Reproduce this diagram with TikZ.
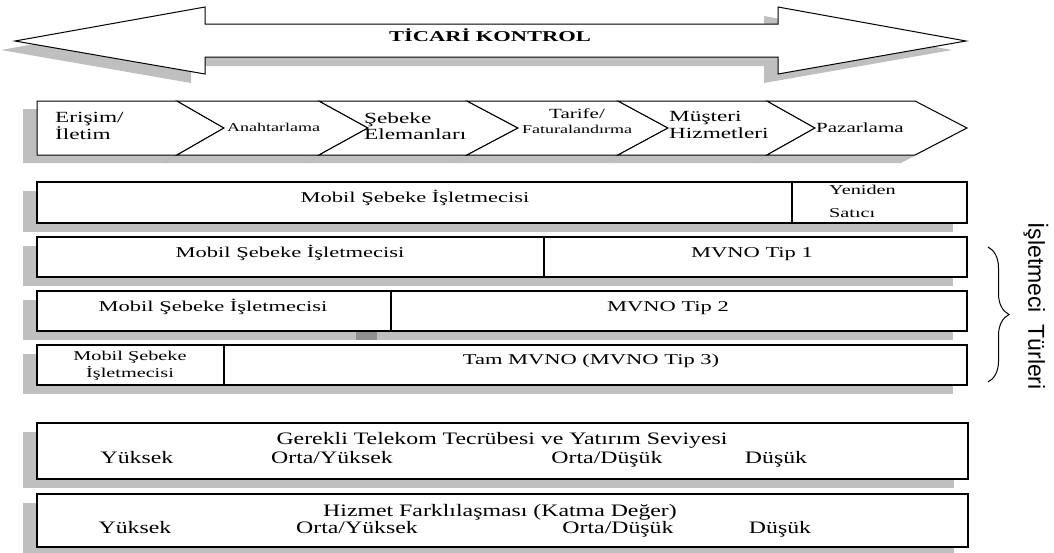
\documentclass[tikz,border=0pt]{standalone}
\usepackage{fontspec}
\setmainfont{Liberation Serif}
\newfontfamily\wf[FakeStretch=1.5]{Liberation Serif}
\newfontfamily\wfb[FakeStretch=1.36]{Liberation Serif}
\newfontfamily\vsans{Liberation Sans}
\usetikzlibrary{decorations.pathreplacing}
\begin{document}
\begin{tikzpicture}[x=1pt,y=-1pt,
  sh/.style={fill=black,fill opacity=0.25,draw=none},
  box/.style={draw=black,line width=1.1pt,fill=white},
  tx/.style={inner sep=0pt,text=black},
  tm/.style={tx,font=\wf\fontsize{15}{17}\selectfont},
  tc/.style={tx,font=\wf\fontsize{15.5}{16.5}\selectfont,align=left},
  ts/.style={tx,font=\wf\fontsize{13.5}{17}\selectfont},
  tb/.style={tx,font=\wfb\fontsize{17.5}{19}\selectfont},
]
\useasboundingbox (0,0) rectangle (1054,552);

% ---------- big double arrow ----------
\fill[sh,shift={(-14,9)}] (15,41) -- (205,7) -- (205,24) -- (778,24) -- (778,7) -- (966,41)
  -- (778,74) -- (778,57) -- (205,57) -- (205,74) -- cycle;
\draw[line width=1pt,fill=white] (15,41) -- (205,7) -- (205,24) -- (778,24) -- (778,7) -- (966,41)
  -- (778,74) -- (778,57) -- (205,57) -- (205,74) -- cycle;
\node[tx,anchor=base,font=\wf\bfseries\fontsize{15}{17}\selectfont] (title) at (490,41) {TİCARİ KONTROL};

% ---------- chevrons ----------
\begin{scope}[shift={(-14,8)}]
\fill[sh] (37,101) -- (177,101) -- (224,128) -- (177,155) -- (37,155) -- cycle;
\fill[sh] (177,101) -- (319,101) -- (368,128) -- (319,155) -- (177,155) -- (224,128) -- cycle;
\fill[sh] (319,101) -- (467,101) -- (518,128) -- (467,155) -- (319,155) -- (368,128) -- cycle;
\fill[sh] (467,101) -- (618,101) -- (668,128) -- (618,155) -- (467,155) -- (518,128) -- cycle;
\fill[sh] (618,101) -- (767,101) -- (815,128) -- (767,155) -- (618,155) -- (668,128) -- cycle;
\fill[sh] (767,101) -- (915,101) -- (967,128) -- (915,155) -- (767,155) -- (815,128) -- cycle;
\end{scope}
\draw[box,line width=1pt] (37,101) -- (177,101) -- (224,128) -- (177,155) -- (37,155) -- cycle;
\draw[box,line width=1pt] (177,101) -- (319,101) -- (368,128) -- (319,155) -- (177,155) -- (224,128) -- cycle;
\draw[box,line width=1pt] (319,101) -- (467,101) -- (518,128) -- (467,155) -- (319,155) -- (368,128) -- cycle;
\draw[box,line width=1pt] (467,101) -- (618,101) -- (668,128) -- (618,155) -- (467,155) -- (518,128) -- cycle;
\draw[box,line width=1pt] (618,101) -- (767,101) -- (815,128) -- (767,155) -- (618,155) -- (668,128) -- cycle;
\draw[box,line width=1pt] (767,101) -- (915,101) -- (967,128) -- (915,155) -- (767,155) -- (815,128) -- cycle;

\node[tc,anchor=west] (c1) at (55,126) {Erişim/\\İletim};
\node[tx,anchor=base west,font=\wf\fontsize{12}{14}\selectfont] (c2) at (227,131) {Anahtarlama};
\node[tc,anchor=west] (c3) at (364,126) {Şebeke\\Elemanları};
\node[tx,align=center,font=\wf\fontsize{12}{15}\selectfont] (c4) at (577,121) {{\fontsize{14}{15}\selectfont Tarife/}\\Faturalandırma};
\node[tc,anchor=west] (c5) at (669,125) {Müşteri\\Hizmetleri};
\node[tx,anchor=base west,font=\wf\fontsize{14}{16}\selectfont] (c6) at (816,132) {Pazarlama};

% ---------- operator rows: shadows ----------
\begin{scope}[shift={(-14,9)}]
\fill[sh] (37,182) rectangle (792,223);
\fill[sh] (792,182) rectangle (967,223);
\fill[sh] (37,237) rectangle (544,277);
\fill[sh] (544,237) rectangle (967,277);
\fill[sh] (370,291) rectangle (967,331);
\fill[sh] (37,291) rectangle (391,331);
\fill[sh] (37,345) rectangle (224,385);
\fill[sh] (224,345) rectangle (967,385);
\fill[sh] (37,423) rectangle (968,479);
\fill[sh] (37,494) rectangle (968,547);
\end{scope}

% ---------- operator rows: cells ----------
\draw[box] (37,182) rectangle (792,223);
\draw[box] (792,182) rectangle (967,223);
\draw[box] (37,237) rectangle (544,277);
\draw[box] (544,237) rectangle (967,277);
\draw[box] (370,291) rectangle (967,331);
\draw[box] (37,291) rectangle (391,331);
\draw[box] (37,345) rectangle (224,385);
\draw[box] (224,345) rectangle (967,385);

\node[tm,anchor=base] (r1a) at (415,202) {Mobil Şebeke İşletmecisi};
\node[ts,anchor=west,align=left,font=\wf\fontsize{13.5}{23}\selectfont] (r1b) at (829,201) {Yeniden\\Satıcı};
\node[tm,anchor=base] (r2a) at (290,257) {Mobil Şebeke İşletmecisi};
\node[tm,anchor=base] (r2b) at (752,257) {MVNO Tip 1};
\node[tm,anchor=base] (r3a) at (213,311) {Mobil Şebeke İşletmecisi};
\node[tm,anchor=base] (r3b) at (668,311) {MVNO Tip 2};
\node[ts,align=center] (r4a) at (130,366) {Mobil Şebeke\\İşletmecisi};
\node[tm,anchor=base] (r4b) at (591,364) {Tam MVNO (MVNO Tip 3)};

% ---------- brace and side label ----------
\coordinate (bt) at (988,247);
\coordinate (bb) at (988,382);
\draw[line width=1pt,decorate,decoration={brace,amplitude=21pt}] (bt) -- (bb);
\node[tx,rotate=-90,font=\vsans\fontsize{23}{25}\selectfont] (vt) at (1036,306) {İşletmeci\hspace{0.5em}Türleri};

% ---------- bottom boxes ----------
\draw[box] (37,423) rectangle (968,479);
\draw[box] (37,494) rectangle (968,547);

\node[tb,anchor=base] (g0) at (502,444) {Gerekli Telekom Tecrübesi ve Yatırım Seviyesi};
\node[tb,anchor=base] (g1) at (137,463) {Yüksek};
\node[tb,anchor=base] (g2) at (332,463) {Orta/Yüksek};
\node[tb,anchor=base] (g3) at (607,463) {Orta/Düşük};
\node[tb,anchor=base] (g4) at (776,463) {Düşük};

\node[tb,anchor=base] (h0) at (500,516) {Hizmet Farklılaşması (Katma Değer)};
\node[tb,anchor=base] (h1) at (135,533) {Yüksek};
\node[tb,anchor=base] (h2) at (357,533) {Orta/Yüksek};
\node[tb,anchor=base] (h3) at (618,533) {Orta/Düşük};
\node[tb,anchor=base] (h4) at (780,533) {Düşük};
\end{tikzpicture}
\end{document}
